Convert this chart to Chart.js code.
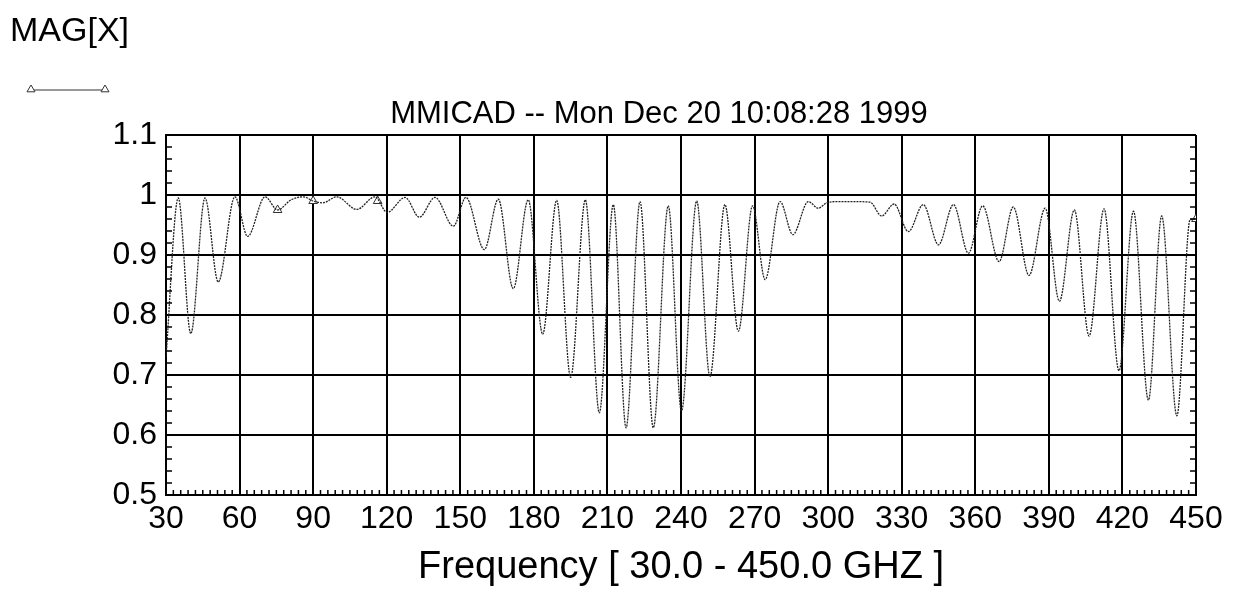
<!DOCTYPE html>
<html>
<head>
<meta charset="utf-8">
<title>MMICAD MAG[X]</title>
<script src="https://cdn.jsdelivr.net/npm/chart.js@4/dist/chart.umd.min.js"></script>
<style>
  html, body { margin: 0; padding: 0; background: #fff; }
  canvas { display: block; }
</style>
</head>
<body>
<canvas id="mag-chart" width="1233" height="593"></canvas>
<script>
// Values (peaks and dips of MAG[X])
const freqGHz = [
  30, 35.0, 40.1, 45.9, 51.3, 58.1, 63.3, 70.4, 75.5, 81, 86, 90, 94, 99.6,
  107.8, 115.2, 120.2, 127.5, 133.3, 139.7, 147.2, 152.3, 159.8, 165.5, 171.6,
  177.7, 183.6, 189.3, 195.0, 201.0, 206.7, 212.4, 217.6, 223.3, 228.7, 234.8,
  240.2, 246.4, 251.8, 257.9, 263.4, 269.2, 274.3, 280.4, 285.6, 291.9, 296.0,
  299.4, 304, 310, 317.1, 321.8, 326.9, 332.7, 338.8, 345.0, 351.1, 357.2,
  363.0, 369.7, 375.5, 381.9, 388.5, 394.3, 400.4, 406.4, 412.5, 418.6, 424.5,
  430.6, 436.0, 442.2, 447.6, 450
];
const magX = [
  0.73, 0.995, 0.769, 0.995, 0.855, 0.997, 0.931, 0.997, 0.975, 0.992, 0.997, 0.990, 0.987, 0.997,
  0.976, 0.997, 0.971, 0.996, 0.963, 0.996, 0.948, 0.996, 0.909, 0.993, 0.844,
  0.992, 0.768, 0.991, 0.696, 0.992, 0.637, 0.984, 0.612, 0.989, 0.612, 0.982,
  0.640, 0.990, 0.697, 0.984, 0.773, 0.982, 0.859, 0.989, 0.934, 0.989, 0.978,
  0.987, 0.989, 0.989, 0.988, 0.965, 0.985, 0.939, 0.984, 0.917, 0.984, 0.903,
  0.982, 0.889, 0.980, 0.866, 0.978, 0.823, 0.975, 0.765, 0.977, 0.707, 0.973,
  0.658, 0.965, 0.632, 0.959, 0.960
];
// triangle markers sitting on the trace
const markerFreq = [75.5, 90, 116.3, 450];
const markerMag = [0.975, 0.990, 0.990, 0.960];

const xTicks = [30, 60, 90, 120, 150, 180, 210, 240, 270, 300, 330, 360, 390, 420, 450];
const yTicks = [0.5, 0.6, 0.7, 0.8, 0.9, 1, 1.1];

const FONT = '"Liberation Sans", Arial, sans-serif';

function drawTriangle(ctx, x, y, r){
  ctx.beginPath();
  ctx.moveTo(x, y - r);
  ctx.lineTo(x + r, y + r * 0.7);
  ctx.lineTo(x - r, y + r * 0.7);
  ctx.closePath();
  ctx.fillStyle = '#fff';
  ctx.fill();
  ctx.stroke();
}

// small inside ticks on the frame, plus header texts and legend sample
const framePlugin = {
  id: 'frame',
  afterDraw(chart){
    const ctx = chart.ctx;
    const xs = chart.scales.x, ys = chart.scales.y;
    const a = chart.chartArea;
    ctx.save();
    ctx.strokeStyle = '#000';
    ctx.lineWidth = 1.5;
    ctx.beginPath();
    for(let i = 0; i <= 30; i++){
      if(i % 5 === 0) continue;
      const py = ys.getPixelForValue(0.5 + i * 0.02);
      ctx.moveTo(a.left, py); ctx.lineTo(a.left + 6, py);
      ctx.moveTo(a.right, py); ctx.lineTo(a.right - 6, py);
    }
    for(let i = 0; i <= 140; i++){
      if(i % 10 === 0) continue;
      const px = xs.getPixelForValue(30 + i * 3);
      ctx.moveTo(px, a.bottom); ctx.lineTo(px, a.bottom - 5);
    }
    ctx.stroke();

    ctx.fillStyle = '#000';
    ctx.textBaseline = 'alphabetic';
    ctx.font = '34px ' + FONT;
    ctx.textAlign = 'left';
    ctx.fillText('MAG[X]', 10, 41);

    ctx.font = '31px ' + FONT;
    ctx.textAlign = 'center';
    ctx.fillText('MMICAD -- Mon Dec 20 10:08:28 1999', 659, 123);

    // legend sample
    ctx.strokeStyle = '#333';
    ctx.lineWidth = 1;
    ctx.beginPath();
    ctx.moveTo(31, 90); ctx.lineTo(105, 90);
    ctx.stroke();
    drawTriangle(ctx, 31, 89, 4);
    drawTriangle(ctx, 105, 89, 4);
    ctx.restore();
  }
};

const ctx = document.getElementById('mag-chart').getContext('2d');
new Chart(ctx, {
  type: 'line',
  data: {
    datasets: [
      {
        label: 'MAG[X]',
        data: freqGHz.map((f, i) => ({x: f, y: magX[i]})),
        borderColor: '#222',
        borderWidth: 1.3,
        borderDash: [2, 1],
        cubicInterpolationMode: 'monotone',
        pointRadius: 0,
        fill: false
      },
      {
        label: 'markers',
        data: markerFreq.map((f, i) => ({x: f, y: markerMag[i]})),
        showLine: false,
        pointStyle: 'triangle',
        pointRadius: 5,
        pointBorderWidth: 1,
        pointBorderColor: '#333',
        pointBackgroundColor: '#fff'
      }
    ]
  },
  options: {
    responsive: false,
    animation: false,
    layout: { padding: { top: 135, left: 0, right: 37, bottom: 0 } },
    plugins: {
      legend: { display: false },
      title: { display: false },
      tooltip: { enabled: false }
    },
    scales: {
      x: {
        type: 'linear',
        min: 30, max: 450,
        afterBuildTicks: s => { s.ticks = xTicks.map(v => ({value: v})); },
        afterFit: s => { s.height = 98; },
        grid: { color: '#000', lineWidth: 2, drawTicks: false },
        border: { color: '#000', width: 2 },
        ticks: { color: '#000', font: { family: FONT, size: 32 }, padding: 5, maxRotation: 0 },
        title: {
          display: true,
          text: 'Frequency [ 30.0 - 450.0 GHZ ]',
          color: '#000',
          font: { family: FONT, size: 38 },
          padding: { top: 0, bottom: 3 }
        }
      },
      y: {
        type: 'linear',
        min: 0.5, max: 1.1,
        afterBuildTicks: s => { s.ticks = yTicks.map(v => ({value: v})); },
        afterFit: s => { s.width = 166; },
        grid: { color: '#000', lineWidth: 2, drawTicks: false },
        border: { color: '#000', width: 2 },
        ticks: {
          color: '#000', font: { family: FONT, size: 32 }, padding: 9,
          callback: v => String(Number(v.toFixed(1)))
        }
      }
    }
  },
  plugins: [framePlugin]
});
</script>
</body>
</html>
